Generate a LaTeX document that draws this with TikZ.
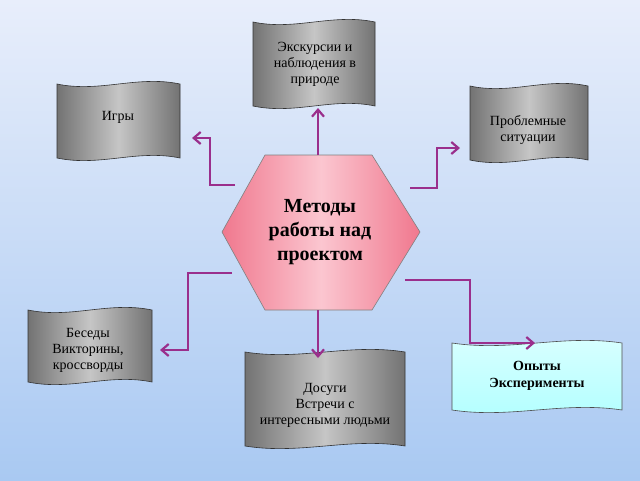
\documentclass[tikz,border=0pt]{standalone}
\usepackage{fontspec}
\setmainfont{Liberation Serif}
\usetikzlibrary{arrows.meta}
\definecolor{conn}{HTML}{9A2F8C}
\definecolor{bgtop}{HTML}{E8EEFB}
\definecolor{bgbot}{HTML}{A9C9F2}
\definecolor{hexmid}{HTML}{FBC6D0}
\definecolor{hexside}{HTML}{F0788E}
\newcommand{\myflag}[5]{%
  \path[#5] (#1,#2) .. controls ({#1+0.35*(#3-#1)},{#2+9}) and ({#1+0.65*(#3-#1)},{#2-9}) .. (#3,#2)
    -- (#3,#4) .. controls ({#1+0.65*(#3-#1)},{#4-9}) and ({#1+0.35*(#3-#1)},{#4+9}) .. (#1,#4) -- cycle;}
\tikzset{
  grayflag/.style={draw=black!80, line width=0.6pt, left color=gray!90!black, right color=gray!90!black, middle color=gray!45},
  waterflag/.style={draw=black!70, line width=0.6pt, top color=cyan!15, bottom color=cyan!30},
  lbl/.style={font=\fontsize{14}{16}\selectfont, align=center, text=black},
  conn/.style={draw=conn, line width=2.2pt, -{Straight Barb[length=7pt,width=12pt]}}
}
\begin{document}
\begin{tikzpicture}[x=1pt,y=-1pt]
\useasboundingbox (0,0) rectangle (640,480);
\shade[top color=bgtop, bottom color=bgbot] (0,0) rectangle (640,480);
\myflag{57}{84}{180}{158}{grayflag}
\myflag{253}{22}{375}{106}{grayflag}
\myflag{470}{86}{588}{160}{grayflag}
\myflag{28}{310}{152}{382}{grayflag}
\myflag{245}{352}{405}{446}{grayflag}
\myflag{452}{343}{622}{410}{waterflag}
\node[lbl] (igry) at (118,117) {Игры};
\node[lbl] (ekskursii) at (315,64) {Экскурсии и\\наблюдения в\\природе};
\node[lbl] (problem) at (528,130) {Проблемные\\ситуации};
\node[lbl] (besedy) at (88,350) {Беседы\\Викторины,\\кроссворды};
\node[lbl] (dosugi) at (325,405) {Досуги\\Встречи с\\интересными людьми};
\node[lbl, font=\bfseries\fontsize{14}{17}\selectfont] (opyty) at (537,376) {Опыты\\Эксперименты};
\shade[draw=black!50, line width=0.6pt, left color=hexside, right color=hexside, middle color=hexmid]
  (222,232) -- (265,155) -- (372,155) -- (420,232) -- (372,310) -- (265,310) -- cycle;
\node[lbl, font=\bfseries\fontsize{20}{24}\selectfont] (center) at (320,232) {Методы\\работы над\\проектом};
\coordinate (c1) at (235,185); \coordinate (t1) at (192,138);
\coordinate (c2) at (318,155); \coordinate (t2) at (318,108);
\coordinate (c3) at (410,188); \coordinate (t3) at (460,148);
\coordinate (c4) at (232,273); \coordinate (t4) at (160,350);
\coordinate (c5) at (318,310); \coordinate (t5) at (318,358);
\coordinate (c6) at (405,280); \coordinate (t6) at (535,343);
\draw[conn] (c1) -- (210,185) -- (210,138) -- (t1);
\draw[conn] (c2) -- (t2);
\draw[conn] (c3) -- (437,188) -- (437,148) -- (t3);
\draw[conn] (c4) -- (188,273) -- (188,350) -- (t4);
\draw[conn] (c5) -- (t5);
\draw[conn] (c6) -- (470,280) -- (470,343) -- (t6);
\end{tikzpicture}
\end{document}
